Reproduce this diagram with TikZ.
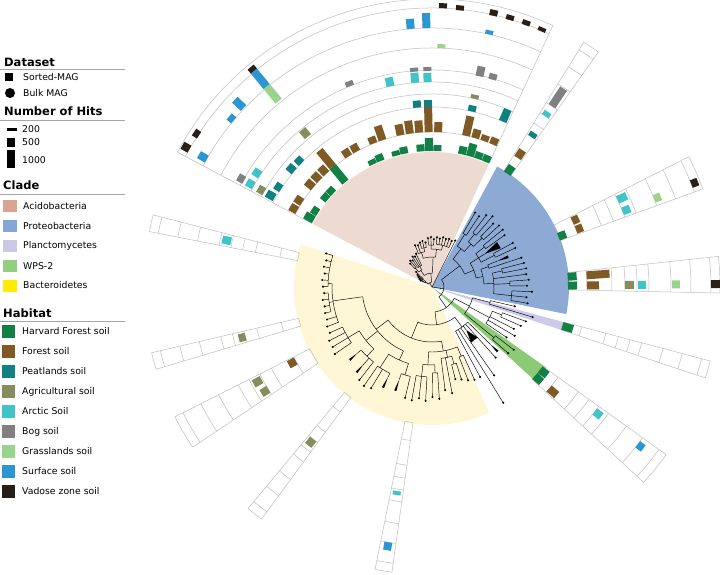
\documentclass[tikz,border=0pt]{standalone}
\usepackage{fontspec}
\setmainfont{DejaVu Sans}
\definecolor{hfC}{RGB}{16,128,68}
\definecolor{fsC}{RGB}{128,90,36}
\definecolor{ptC}{RGB}{16,128,128}
\definecolor{agC}{RGB}{134,140,92}
\definecolor{arC}{RGB}{64,196,200}
\definecolor{bgC}{RGB}{128,128,128}
\definecolor{glC}{RGB}{154,212,140}
\definecolor{sfC}{RGB}{44,150,210}
\definecolor{vzC}{RGB}{40,32,24}
\definecolor{acL}{RGB}{218,164,146}
\definecolor{prL}{RGB}{132,166,212}
\definecolor{plL}{RGB}{202,200,230}
\definecolor{wpL}{RGB}{146,206,126}
\definecolor{baL}{RGB}{255,236,0}
\definecolor{acW}{RGB}{237,218,208}
\definecolor{prW}{RGB}{140,170,212}
\definecolor{plW}{RGB}{204,202,232}
\definecolor{wpW}{RGB}{140,202,118}
\definecolor{baW}{RGB}{255,246,214}
\definecolor{gridC}{RGB}{190,190,190}
\tikzset{
 treeline/.style={black, line width=0.45pt},
 gridline/.style={draw=gridC, line width=0.5pt},
 legtext/.style={anchor=west, inner sep=0pt, font=\fontsize{9.3}{11}\selectfont},
 leghead/.style={anchor=base west, inner sep=0pt, font=\fontsize{11.5}{13}\selectfont\bfseries},
 legrule/.style={draw=gray!70, line width=0.6pt}
}
\newcommand{\TBr}[3]{\draw[treeline] (#1:#2) -- (#1:#3);}
\newcommand{\TTip}[3]{\draw[treeline] (#1:#2) -- (#1:#3); \fill (#1:#3) circle[radius=1.15];}
\newcommand{\TArc}[3]{\draw[treeline] (#2:#1) arc[start angle=#2, end angle=#3, radius=#1];}
\newcommand{\TTri}[4]{\fill (#1:#2) -- ({#1+#4}:#3) -- ({#1-#4}:#3) -- cycle;}
\newcommand{\HBar}[4]{\fill[#1, rotate=#2] (#3,-4) rectangle (#4,4);}
\newcommand{\Spk}[2]{%
 \draw[gridline] (#1:137) -- (#1:288) arc[start angle=#1, end angle=#2, radius=288] -- (#2:137) arc[start angle=#2, end angle=#1, radius=137] -- cycle;
 \foreach \rr in {155,180,193,205,217,239,259,279}{\draw[gridline] (#1:\rr) arc[start angle=#1, end angle=#2, radius=\rr];}%
}
\begin{document}
\begin{tikzpicture}[x=1pt,y=1pt,line join=round]
\useasboundingbox (0,0) rectangle (720,574);
\fill[white] (0,0) rectangle (720,574);

\begin{scope}[shift={(432,287)}]
% clade wedges
\fill[acW] (0,0) -- (65.2:135) arc[start angle=65.2, end angle=152.1, radius=135] -- cycle;
\fill[prW] (0,0) -- (-11.4:137) arc[start angle=-11.4, end angle=61.6, radius=137] -- cycle;
\fill[plW] (0,0) -- (-18.4:137) arc[start angle=-18.4, end angle=-14.9, radius=137] -- cycle;
\fill[wpW] (0,0) -- (-42.3:140) arc[start angle=-42.3, end angle=-35.2, radius=140] -- cycle;
\fill[baW] (0,0) -- (162:138) arc[start angle=162, end angle=294.5, radius=138] -- cycle;

% ---------- tree: Acidobacteria ----------
\TBr{118.5}{0}{5}
\TArc{5}{142}{95}
\TBr{142}{5}{8}
\TArc{8}{148.66}{140}
\TBr{148.66}{8}{10}
\TArc{10}{150.4}{146.92}
\TTip{150.4}{10}{13}
\TTip{146.92}{10}{15}
\TBr{140}{8}{12}
\TArc{12}{143.44}{136.48}
\TTip{143.44}{12}{17}
\TTip{139.96}{12}{19}
\TTip{136.48}{12}{22}
\TBr{95}{5}{14}
\TArc{14}{124}{88}
\TBr{124}{14}{20}
\TArc{20}{131.26}{120.8}
\TBr{131.26}{20}{25}
\TArc{25}{133}{129.52}
\TTip{133}{25}{32}
\TTip{129.52}{25}{34}
\TBr{120.8}{20}{24}
\TArc{24}{126.04}{115.6}
\TTip{126.04}{24}{33}
\TTip{122.56}{24}{36}
\TTip{119.08}{24}{35}
\TTip{115.6}{24}{37}
\TBr{88}{14}{30}
\TArc{30}{106.9}{83.25}
\TBr{106.9}{30}{36}
\TArc{36}{112.12}{101.68}
\TTip{112.12}{36}{45}
\TTip{108.64}{36}{44}
\TBr{101.68}{36}{40}
\TArc{40}{105.16}{98.2}
\TTip{105.16}{40}{46}
\TTip{101.68}{40}{47}
\TTip{98.2}{40}{45}
\TBr{83.25}{30}{38}
\TArc{38}{91.24}{75.6}
\TBr{91.24}{38}{42}
\TArc{42}{94.72}{87.76}
\TTip{94.72}{42}{49}
\TTip{91.24}{42}{50}
\TTip{87.76}{42}{48}
\TBr{75.6}{38}{43}
\TArc{43}{84.28}{66.88}
\TTip{84.28}{43}{50}
\TTip{80.8}{43}{49}
\TTip{77.32}{43}{51}
\TTip{73.84}{43}{50}
\TTip{70.36}{43}{51}
\TTip{66.88}{43}{50}
\TTip{63.4}{0}{52}

% ---------- tree: rest ----------
\TBr{-8.8}{0}{12}
\TArc{12}{37.35}{-55}
% Proteobacteria
\TBr{37.35}{12}{35}
\TArc{35}{52.9}{21.8}
\TBr{52.9}{35}{48}
\TArc{48}{58.18}{47.7}
\TBr{58.18}{48}{62}
\TArc{62}{59.92}{56.44}
\TTip{59.92}{62}{86}
\TTip{56.44}{62}{85}
\TBr{47.7}{48}{58}
\TArc{58}{51.22}{44.26}
\TBr{51.22}{58}{68}
\TArc{68}{52.96}{49.48}
\TTip{52.96}{68}{90}
\TTip{49.48}{68}{93}
\TBr{44.26}{58}{70}
\TArc{70}{46}{42.52}
\TTip{46}{70}{88}
\TTip{42.52}{70}{91}
\TBr{21.8}{35}{45}
\TArc{45}{32}{11.65}
\TBr{32}{45}{55}
\TArc{55}{37.3}{26.88}
\TBr{37.3}{55}{66}
\TArc{66}{39.04}{35.56}
\TTip{39.04}{66}{91}
\TTip{35.56}{66}{89}
\TBr{32.08}{55}{62}
\TTri{32.08}{62}{79}{2.6}
\TBr{26.88}{55}{70}
\TArc{70}{28.6}{25.12}
\TTip{28.6}{70}{92}
\TTip{25.12}{70}{92}
\TBr{11.65}{45}{52}
\TArc{52}{19.9}{3.4}
\TBr{19.9}{52}{60}
\TArc{60}{21.64}{18.16}
\TBr{21.64}{60}{70}
\TTri{21.64}{70}{82}{1.0}
\TTip{18.16}{60}{94}
\TBr{3.4}{52}{62}
\TArc{62}{12.94}{-6.2}
\TBr{12.94}{62}{72}
\TArc{72}{14.68}{11.2}
\TTip{14.68}{72}{95}
\TTip{11.2}{72}{96}
\TTip{7.72}{62}{95}
\TBr{2.5}{62}{78}
\TArc{78}{4.24}{0.76}
\TTip{4.24}{78}{97}
\TTip{0.76}{78}{95}
\TBr{-6.2}{62}{80}
\TArc{80}{-2.72}{-9.68}
\TTip{-2.72}{80}{100}
\TTip{-6.2}{80}{95}
\TTip{-9.68}{80}{97}
% Z
\TBr{-55}{12}{25}
\TArc{25}{-27}{-83}
\TBr{-27}{25}{42}
\TArc{42}{-14.9}{-39.26}
\TBr{-14.9}{42}{60}
\TArc{60}{-13.16}{-16.64}
\TTip{-13.16}{60}{85}
\TTip{-16.64}{60}{105}
\TBr{-28}{42}{65}
\TArc{65}{-21.86}{-34.04}
\TBr{-21.86}{65}{75}
\TArc{75}{-20.12}{-23.6}
\TTip{-20.12}{75}{100}
\TTip{-23.6}{75}{97}
\TTip{-27.08}{65}{92}
\TTip{-30.56}{65}{96}
\TTip{-34.04}{65}{90}
\TBr{-39.26}{42}{80}
\TArc{80}{-37.52}{-41}
\TTip{-37.52}{80}{103}
\TTip{-41}{80}{101}
% Y
\TBr{277}{25}{38}
\TArc{38}{307}{248}
\TBr{307}{38}{50}
\TArc{50}{-44.48}{-61.88}
\TBr{-44.48}{50}{82}
\TTri{-44.48}{82}{92}{0.8}
\TTip{-47.96}{50}{95}
\TBr{-51.44}{50}{55}
\TTri{-51.44}{55}{68}{3.5}
\TTip{-54.92}{50}{108}
\TTip{-58.4}{50}{136}
\TTip{-61.88}{50}{102}
% Bacteroidetes
\TBr{248}{38}{55}
\TArc{55}{280}{217}
\TBr{280}{55}{65}
\TArc{65}{292.9}{267}
\TBr{292.9}{65}{75}
\TArc{75}{294.64}{291.16}
\TTip{294.64}{75}{102}
\TTip{291.16}{75}{100}
\TBr{282.46}{65}{72}
\TArc{72}{285.94}{277.24}
\TBr{285.94}{72}{80}
\TArc{80}{287.68}{284.2}
\TTip{287.68}{80}{97}
\TTip{284.2}{80}{95}
\TTip{280.72}{72}{108}
\TTip{277.24}{72}{104}
\TBr{267}{65}{78}
\TArc{78}{272.02}{263.32}
\TBr{272.02}{78}{86}
\TArc{86}{273.76}{270.28}
\TTip{273.76}{86}{112}
\TTip{270.28}{86}{110}
\TBr{263.32}{78}{90}
\TArc{90}{266.8}{259.84}
\TTip{266.8}{90}{114}
\TTip{263.32}{90}{112}
\TTip{259.84}{90}{115}
\TBr{217}{55}{70}
\TArc{70}{245.9}{188}
\TBr{245.9}{70}{80}
\TArc{80}{252.88}{237.2}
\TBr{252.88}{80}{92}
\TArc{92}{256.36}{250.5}
\TTip{256.36}{92}{114}
\TBr{250.5}{92}{98}
\TTri{250.5}{98}{110}{0.6}
\TBr{237.2}{80}{96}
\TArc{96}{244}{235.48}
\TBr{244}{96}{100}
\TTri{244}{100}{112}{0.6}
\TTip{238.96}{96}{118}
\TTip{235.48}{96}{120}
\TBr{219}{70}{85}
\TArc{85}{226.8}{211.1}
\TBr{226.8}{85}{95}
\TArc{95}{232}{221.56}
\TTip{232}{95}{118}
\TBr{228.52}{95}{104}
\TTri{228.52}{104}{114}{0.6}
\TBr{221.56}{95}{100}
\TTri{221.56}{100}{110}{0.6}
\TBr{211.1}{85}{98}
\TArc{98}{214.6}{204.16}
\TTip{214.6}{98}{118}
\TTip{211.12}{98}{116}
\TTip{207.64}{98}{116}
\TTip{204.16}{98}{112}
\TBr{188}{70}{100}
\TArc{100}{200.68}{178}
\TTip{200.68}{100}{112}
\TTip{197.2}{100}{110}
\TBr{188.5}{100}{104}
\TArc{104}{193.72}{183.28}
\TTip{193.72}{104}{110}
\TTip{190.24}{104}{109}
\TTip{186.76}{104}{110}
\TTip{183.28}{104}{108}
\TBr{178}{100}{104}
\TArc{104}{179.8}{162.4}
\TTip{179.8}{104}{109}
\TTip{176.32}{104}{110}
\TTip{172.84}{104}{108}
\TTip{169.36}{104}{110}
\TTip{165.88}{104}{109}
\TTip{162.4}{104}{111}

% ---------- ring grid ----------
\draw[gridline] (65.2:137) -- (65.2:288) arc[start angle=65.2, end angle=152.1, radius=288] -- (152.1:137);
\foreach \rr in {155,180,193,205,217,239,259,279}{\draw[gridline] (65.2:\rr) arc[start angle=65.2, end angle=152.1, radius=\rr];}
\Spk{54.7}{58.2}
\Spk{19.9}{26.9}
\Spk{-1.2}{6.1}
\Spk{-18.4}{-14.9}
\Spk{-42.7}{-35.6}
\Spk{258.6}{262.0}
\Spk{230.3}{233.7}
\Spk{206.8}{213.8}
\Spk{193.2}{196.6}
\Spk{165.5}{168.9}

% ---------- bars: fan ----------
\HBar{hfC}{150.4}{136}{146}
\HBar{hfC}{146.92}{136}{143}
\HBar{hfC}{139.96}{136}{143}
\HBar{hfC}{136.48}{136}{143}
\HBar{hfC}{129.52}{136}{156}
\HBar{hfC}{115.6}{136}{141}
\HBar{hfC}{112.12}{136}{143}
\HBar{hfC}{105.16}{136}{141}
\HBar{hfC}{101.68}{136}{143}
\HBar{hfC}{94.72}{136}{143}
\HBar{hfC}{91.24}{136}{149}
\HBar{hfC}{87.76}{136}{142}
\HBar{hfC}{77.32}{136}{144}
\HBar{hfC}{73.84}{136}{149}
\HBar{hfC}{70.36}{136}{143}
\HBar{hfC}{66.88}{136}{143}
\HBar{fsC}{150.4}{155}{163}
\HBar{fsC}{146.92}{155}{163}
\HBar{fsC}{139.96}{155}{164}
\HBar{fsC}{136.48}{155}{164}
\HBar{fsC}{133}{155}{164}
\HBar{fsC}{129.52}{156}{177}
\HBar{fsC}{122.56}{155}{163}
\HBar{fsC}{119.08}{155}{163}
\HBar{fsC}{112.12}{155}{162}
\HBar{fsC}{108.64}{155}{170}
\HBar{fsC}{101.68}{155}{166}
\HBar{fsC}{98.2}{155}{168}
\HBar{fsC}{94.72}{155}{167}
\HBar{fsC}{91.24}{155}{180}
\HBar{fsC}{87.76}{155}{165}
\HBar{fsC}{77.32}{155}{175}
\HBar{fsC}{73.84}{155}{164}
\HBar{fsC}{70.36}{155}{161}
\HBar{fsC}{66.88}{155}{162}
\HBar{ptC}{150.4}{181}{190}
\HBar{ptC}{146.92}{180}{187}
\HBar{ptC}{139.96}{180}{188}
\HBar{ptC}{136.48}{180}{187}
\HBar{ptC}{94.72}{180}{187}
\HBar{ptC}{91.24}{180}{187}
\HBar{ptC}{77.32}{180}{186}
\HBar{ptC}{66.88}{180}{193}
\HBar{agC}{150.4}{193}{200}
\HBar{agC}{129.52}{195}{204}
\HBar{agC}{77.32}{193}{197}
\HBar{arC}{150.4}{205}{213}
\HBar{arC}{146.92}{205}{213}
\HBar{arC}{101.68}{205}{214}
\HBar{arC}{94.72}{205}{215}
\HBar{arC}{91.24}{205}{214}
\HBar{bgC}{150.4}{216}{223}
\HBar{bgC}{112.12}{217}{222}
\HBar{bgC}{94.72}{216}{220}
\HBar{bgC}{91.24}{216}{220}
\HBar{bgC}{77.32}{216}{226}
\HBar{bgC}{73.84}{216}{222}
\HBar{glC}{129.52}{241}{260}
\HBar{glC}{87.76}{239}{243}
\HBar{sfC}{150.4}{259}{268}
\HBar{sfC}{139.96}{259}{265}
\HBar{sfC}{136.48}{260}{272}
\HBar{sfC}{129.52}{260}{280}
\HBar{sfC}{94.72}{259}{269}
\HBar{sfC}{91.24}{259}{274}
\HBar{sfC}{77.32}{259}{263}
\HBar{vzC}{150.4}{279}{287}
\HBar{vzC}{146.92}{278}{284}
\HBar{vzC}{129.52}{280}{285}
\HBar{vzC}{87.76}{279}{284}
\HBar{vzC}{84.28}{278}{283}
\HBar{vzC}{77.32}{278}{284}
\HBar{vzC}{73.84}{278}{283}
\HBar{vzC}{70.36}{278}{283}
\HBar{vzC}{66.88}{278}{282}
% ---------- bars: spokes ----------
\HBar{hfC}{56.44}{136}{145}
\HBar{fsC}{56.44}{155}{164}
\HBar{ptC}{56.44}{180}{185}
\HBar{arC}{56.44}{205}{210}
\HBar{bgC}{56.44}{217}{238}
\HBar{hfC}{21.64}{136}{144}
\HBar{fsC}{25.12}{155}{162}
\HBar{fsC}{21.64}{155}{162}
\HBar{arC}{25.12}{205}{215}
\HBar{arC}{21.64}{205}{213}
\HBar{glC}{21.64}{239}{246}
\HBar{vzC}{21.64}{279}{286}
\HBar{hfC}{4.3}{136}{145}
\HBar{hfC}{0.6}{136}{145}
\HBar{fsC}{4.3}{155}{178}
\HBar{fsC}{0.6}{155}{167}
\HBar{agC}{0.6}{193}{202}
\HBar{arC}{0.6}{206}{214}
\HBar{glC}{0.6}{240}{248}
\HBar{vzC}{0.6}{279}{288}
\HBar{hfC}{-16.64}{136}{147}
\HBar{hfC}{-37.4}{136}{145}
\HBar{hfC}{-40.9}{136}{145}
\HBar{fsC}{-40.9}{155}{165}
\HBar{arC}{-37.4}{205}{213}
\HBar{sfC}{-37.4}{259}{266}
\HBar{arC}{260.3}{207}{211}
\HBar{sfC}{260.3}{259}{267}
\HBar{agC}{232}{193}{201}
\HBar{fsC}{208.5}{155}{163}
\HBar{agC}{208.5}{194}{203}
\HBar{agC}{212}{193}{201}
\HBar{agC}{194.9}{193}{200}
\HBar{arC}{167.2}{206}{215}
\end{scope}

% ---------- legend ----------
\node[leghead] (hDataset) at (4,507) {Dataset};
\draw[legrule] (0,504.5) -- (125,504.5);
\fill (5,493) rectangle (13,501);
\node[legtext] (tSorted) at (23,497) {Sorted-MAG};
\fill (10,481) circle[radius=5];
\node[legtext] (tBulk) at (23,481) {Bulk MAG};
\node[leghead] (hHits) at (4,458) {Number of Hits};
\draw[legrule] (0,454) -- (125,454);
\fill (7,443) rectangle (17,446);
\node[legtext] (t200) at (22,444.5) {200};
\fill (7,427) rectangle (15,436);
\node[legtext] (t500) at (22,431.5) {500};
\fill (7,406) rectangle (15,424);
\node[legtext] (t1000) at (22,414) {1000};
\node[leghead] (hClade) at (3,384) {Clade};
\draw[legrule] (0,380) -- (125,380);
\foreach \col/\txt/\yy [count=\k] in {acL/Acidobacteria/368, prL/Proteobacteria/348, plL/Planctomycetes/328.5, wpL/WPS-2/308, baL/Bacteroidetes/288.5}{
  \fill[\col] (3,\yy-6) rectangle (17,\yy+6);
  \node[legtext] (clade\k) at (23,\yy) {\txt};
}
\node[leghead] (hHabitat) at (3,257) {Habitat};
\draw[legrule] (0,253) -- (125,253);
\foreach \col/\txt [count=\k from 0] in {hfC/Harvard Forest soil, fsC/Forest soil, ptC/Peatlands soil, agC/Agricultural soil, arC/Arctic Soil, bgC/Bog soil, glC/Grasslands soil, sfC/Surface soil, vzC/Vadose zone soil}{
  \pgfmathsetmacro{\yy}{242.5-20*\k}
  \fill[\col] (2,\yy-6.5) rectangle (15,\yy+6.5);
  \node[legtext] (hab\k) at (22,\yy) {\txt};
}
\end{tikzpicture}
\end{document}
